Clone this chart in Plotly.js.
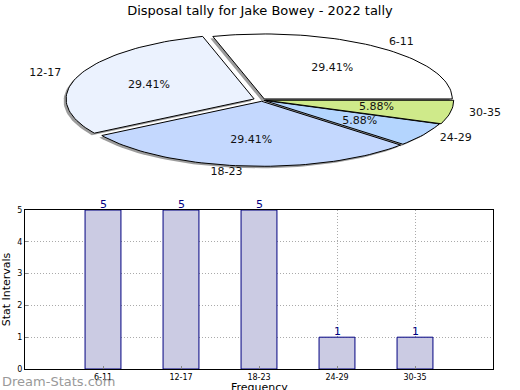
<!DOCTYPE html>
<html>
<head>
<meta charset="utf-8">
<script src="https://cdn.plot.ly/plotly-3.0.1.min.js"></script>
<style>html,body{margin:0;padding:0;background:#fff}#chart{width:520px;height:390px}</style>
</head>
<body>
<div id="chart"></div>
<script>
// ---- data ----
const categories = ['6-11', '12-17', '18-23', '24-29', '30-35'];
const counts = [5, 5, 5, 1, 1];
const chartTitle = 'Disposal tally for Jake Bowey - 2022 tally';
const yTitle = 'Stat Intervals';
const xTitle = 'Frequency';
const yTicks = [0, 1, 2, 3, 4, 5];

// ---- style ----
const sliceColors = ['#ffffff', '#ebf2fe', '#c4d8fe', '#b4d5fe', '#cfea8a'];
const explode = [0.02, 0.045, 0.02, 0.012, 0.02];
const W = 520, H = 390;
const pie = {cx: 262, cy: 100, rx: 188, ry: 65};
const FONT = 'DejaVu Sans, sans-serif';

const total = counts.reduce((a, b) => a + b, 0);
const traces = [];
const shadowTraces = [];
const sliceTraces = [];
const txtX = [], txtY = [], txtS = [], txtPos = [];
let start = 0;
counts.forEach((v, i) => {
  const frac = v / total;
  const a0 = start * 2 * Math.PI, a1 = (start + frac) * 2 * Math.PI;
  const am = (a0 + a1) / 2;
  const ox = explode[i] * pie.rx * Math.cos(am);
  const oy = -explode[i] * pie.ry * Math.sin(am);
  const px = [pie.cx + ox], py = [pie.cy + oy];
  const n = Math.max(8, Math.round(frac * 200));
  for (let k = 0; k <= n; k++) {
    const a = a0 + (a1 - a0) * k / n;
    px.push(pie.cx + ox + pie.rx * Math.cos(a));
    py.push(pie.cy + oy - pie.ry * Math.sin(a));
  }
  px.push(px[0]); py.push(py[0]);
  shadowTraces.push({
    type: 'scatter', mode: 'lines', xaxis: 'x2', yaxis: 'y2',
    x: px.map(p => p - 2.5), y: py.map(p => p + 2),
    fill: 'toself', fillcolor: 'rgba(90,90,90,0.6)', line: {width: 0},
    hoverinfo: 'skip', showlegend: false
  });
  sliceTraces.push({
    type: 'scatter', mode: 'lines', xaxis: 'x2', yaxis: 'y2',
    x: px, y: py, fill: 'toself', fillcolor: sliceColors[i],
    line: {color: '#000', width: 1}, name: categories[i],
    hoverinfo: 'name', showlegend: false
  });
  // percentage label
  txtX.push(pie.cx + ox + 0.6 * pie.rx * Math.cos(am));
  txtY.push(pie.cy + oy - 0.6 * pie.ry * Math.sin(am));
  txtS.push((frac * 100).toFixed(2) + '%');
  txtPos.push('middle center');
  // category label
  const lx = pie.cx + ox + 1.1 * pie.rx * Math.cos(am);
  txtX.push(lx);
  txtY.push(pie.cy + oy - 1.1 * pie.ry * Math.sin(am));
  txtS.push(categories[i]);
  txtPos.push(Math.cos(am) >= 0 ? 'middle right' : 'middle left');
  start += frac;
});

traces.push({
  type: 'bar', x: categories, y: counts,
  width: 0.46,
  marker: {color: '#cbcbe3', line: {color: '#000080', width: 1}},
  hoverinfo: 'x+y', showlegend: false
});
shadowTraces.forEach(t => traces.push(t));
sliceTraces.forEach(t => traces.push(t));
traces.push({
  type: 'scatter', mode: 'text', xaxis: 'x2', yaxis: 'y2',
  x: txtX, y: txtY, text: txtS, textposition: txtPos,
  textfont: {size: 11, color: '#111', family: FONT},
  hoverinfo: 'skip', showlegend: false, cliponaxis: false
});

const annotations = categories.map((c, i) => ({
  x: c, y: counts[i], xref: 'x', yref: 'y', text: String(counts[i]),
  showarrow: false, yanchor: 'bottom', yshift: -3,
  font: {size: 11, color: '#000080', family: FONT}
}));
annotations.push({
  text: 'Dream-Stats.com', xref: 'paper', yref: 'paper',
  x: 0, xanchor: 'left', y: (H - 381) / H, yanchor: 'middle', showarrow: false,
  font: {size: 13, color: '#999', family: FONT}
});
// x axis title (placed below tick labels like the reference)
annotations.push({
  text: xTitle, xref: 'x domain', yref: 'paper',
  x: 0.5, xanchor: 'center', y: 0, yanchor: 'top', yshift: 11, showarrow: false,
  font: {size: 11, color: '#000', family: FONT}
});

const gridStyle = {showgrid: true, gridcolor: '#aaa', griddash: '1px,2px', gridwidth: 1};

const layout = {
  width: W, height: H,
  margin: {l: 0, r: 0, t: 0, b: 0},
  paper_bgcolor: '#fff', plot_bgcolor: 'rgba(0,0,0,0)',
  font: {family: FONT, color: '#000'},
  title: {text: chartTitle, x: 0.5, xanchor: 'center', y: 1 - 10 / H, yanchor: 'middle',
          font: {size: 13, family: FONT, color: '#000'}},
  xaxis: Object.assign({
    domain: [25 / W, 493 / W], range: [-1, 5], type: 'category',
    showline: true, mirror: true, linecolor: '#000', linewidth: 1,
    ticks: 'inside', ticklen: 3, tickcolor: '#888',
    tickfont: {size: 8, family: FONT}, automargin: false, zeroline: false,
    fixedrange: true
  }, gridStyle),
  yaxis: Object.assign({
    domain: [(H - 369) / H, (H - 210) / H], range: [0, 5],
    tickvals: yTicks, ticktext: yTicks.map(String),
    showline: true, mirror: true, linecolor: '#000', linewidth: 1,
    ticks: 'inside', ticklen: 3, tickcolor: '#888',
    tickfont: {size: 8, family: FONT}, automargin: false, zeroline: false,
    title: {text: yTitle, font: {size: 11, family: FONT}, standoff: 5},
    fixedrange: true
  }, gridStyle),
  xaxis2: {domain: [0, 1], range: [0, W], visible: false, anchor: 'y2', fixedrange: true},
  yaxis2: {domain: [0, 1], range: [H, 0], visible: false, anchor: 'x2', fixedrange: true},
  annotations: annotations
};

Plotly.newPlot('chart', traces, layout, {displayModeBar: false, staticPlot: true});
</script>
</body>
</html>
